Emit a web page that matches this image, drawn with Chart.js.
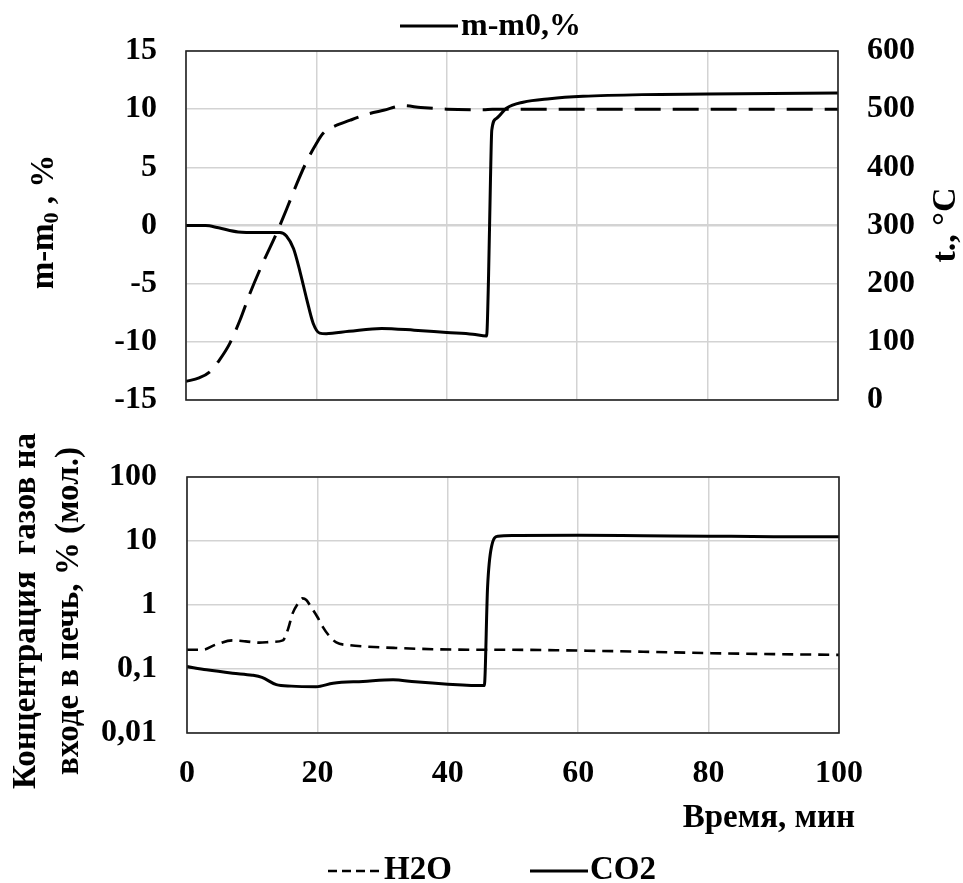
<!DOCTYPE html>
<html><head><meta charset="utf-8">
<script src="https://cdn.jsdelivr.net/npm/chart.js@4.4.1/dist/chart.umd.min.js"></script>
<style>
html,body{margin:0;padding:0;background:#fff;width:963px;height:883px;overflow:hidden;}
#c1{position:absolute;left:0;top:0;}
#c2{position:absolute;left:0;top:420px;}
</style></head><body>
<canvas id="c1" width="963" height="420"></canvas>
<canvas id="c2" width="963" height="463"></canvas>
<script>
// ---- Top panel data ----
const massTime   = [0, 3, 5, 8, 11, 14.4, 15.4, 16.5, 17.5, 18.5, 19.5, 20.5, 21.5, 25, 30, 35, 40, 44, 46.1, 46.4, 46.7, 46.9, 47.6, 49.2, 51.7, 55.8, 60.9, 70, 80, 90, 100];
const massValues = [0, 0, -0.2, -0.55, -0.6, -0.6, -0.9, -2.0, -4.0, -6.3, -8.4, -9.25, -9.3, -9.1, -8.85, -9.0, -9.2, -9.35, -9.5, -4.5, 4.0, 8.2, 9.2, 10.1, 10.6, 10.9, 11.1, 11.25, 11.3, 11.35, 11.4];
const tempTime   = [0, 2, 3.7, 5.2, 6.7, 8.3, 9.8, 11.8, 13.9, 15.5, 17, 18.5, 20, 21, 22.1, 25.2, 28, 30.3, 33.3, 36, 40, 45.6, 47, 100];
const tempValues = [32, 38, 49, 70, 97, 138, 183, 236, 287, 330, 372, 410, 441, 458, 467, 481, 492, 498, 506, 503, 500, 499, 500, 500];
// ---- Bottom panel data ----
const h2oTime    = [0, 2.4, 4.4, 7, 9, 11.1, 13, 14.7, 15.5, 16.2, 17, 17.7, 18.3, 19, 20, 20.8, 21.8, 22.9, 25, 27.5, 32, 37.7, 45, 48, 60, 70, 80, 90, 100];
const h2oValues  = [0.2, 0.2, 0.24, 0.28, 0.27, 0.258, 0.265, 0.28, 0.42, 0.74, 1.05, 1.27, 1.2, 0.94, 0.65, 0.46, 0.33, 0.26, 0.235, 0.224, 0.213, 0.204, 0.2, 0.2, 0.194, 0.186, 0.177, 0.171, 0.166];
const co2Time    = [0, 3, 7, 10, 11.5, 13.7, 16, 19.8, 22.4, 27, 31.6, 35, 40, 45.6, 46.1, 46.7, 47.7, 50, 60, 70, 80, 90, 100];
const co2Values  = [0.109, 0.097, 0.086, 0.08, 0.074, 0.057, 0.054, 0.053, 0.060, 0.064, 0.068, 0.063, 0.058, 0.055, 1.9, 8.1, 11.9, 12.2, 12.3, 12.1, 11.9, 11.7, 11.6];
// ---- Tick labels / texts ----
const xTicks = [0, 20, 40, 60, 80, 100];
const logTicks = [0.01, 0.1, 1, 10, 100];
const logTickLabels = ['0,01', '0,1', '1', '10', '100'];
const topLegendLabel = 'm-m0,%';
const tempLabel = 'Температура';
const h2oLabel = 'H2O';
const co2Label = 'CO2';
const leftTitleTop = ['m-m', '0', ' , %'];
const rightTitleTop = 't., °C';
const leftTitleBottom = ['Концентрация  газов на', 'входе в печь, % (мол.)'];
const xTitle = 'Время, мин';

const FONT = '"Liberation Serif", "Times New Roman", serif';
const pts = (xs, ys) => xs.map((x, i) => ({x, y: ys[i]}));
const GRID = '#d3d3d3';

function frame(chart) {
  const {ctx, chartArea: a} = chart;
  ctx.save();
  ctx.strokeStyle = '#222'; ctx.lineWidth = 1.6;
  ctx.strokeRect(a.left, a.top, a.right - a.left, a.bottom - a.top);
  ctx.restore();
}
const fixPad = s => { s.paddingTop = 16; s.paddingBottom = 16; };

const topPlugin = {
  id: 'topDecor',
  afterDraw(chart) {
    frame(chart);
    const ctx = chart.ctx;
    ctx.save();
    ctx.fillStyle = '#000';
    // legend
    const ds = chart.data.datasets[0];
    ctx.strokeStyle = ds.borderColor; ctx.lineWidth = 3; ctx.setLineDash([]);
    ctx.beginPath(); ctx.moveTo(400, 26); ctx.lineTo(458, 26); ctx.stroke();
    ctx.font = 'bold 32px ' + FONT; ctx.textBaseline = 'middle'; ctx.textAlign = 'left';
    ctx.fillText(ds.label, 461, 27);
    // left title
    ctx.save();
    ctx.translate(44, 222); ctx.rotate(-Math.PI / 2);
    ctx.font = 'bold 33px ' + FONT;
    const w1 = ctx.measureText(leftTitleTop[0]).width;
    const w3 = ctx.measureText(leftTitleTop[2]).width;
    ctx.font = 'bold 22px ' + FONT;
    const w2 = ctx.measureText(leftTitleTop[1]).width;
    let x = -(w1 + w2 + w3) / 2;
    ctx.font = 'bold 33px ' + FONT; ctx.fillText(leftTitleTop[0], x, 0); x += w1;
    ctx.font = 'bold 22px ' + FONT; ctx.fillText(leftTitleTop[1], x, 8); x += w2;
    ctx.font = 'bold 33px ' + FONT; ctx.fillText(leftTitleTop[2], x, 0);
    ctx.restore();
    // right title
    ctx.save();
    ctx.translate(946, 225); ctx.rotate(-Math.PI / 2);
    ctx.font = 'bold 34px ' + FONT; ctx.textAlign = 'center';
    ctx.fillText(rightTitleTop, 0, 0);
    ctx.restore();
    ctx.restore();
  }
};

const bottomPlugin = {
  id: 'bottomDecor',
  afterDraw(chart) {
    frame(chart);
    const ctx = chart.ctx;
    ctx.save();
    ctx.fillStyle = '#000';
    ctx.textBaseline = 'middle';
    // left title (two lines)
    ctx.save();
    ctx.font = 'bold 33px ' + FONT; ctx.textAlign = 'center';
    ctx.translate(0, 191); ctx.rotate(-Math.PI / 2);
    ctx.fillText(leftTitleBottom[0], 0, 26);
    ctx.fillText(leftTitleBottom[1], 0, 69);
    ctx.restore();
    // x title
    ctx.font = 'bold 33px ' + FONT; ctx.textAlign = 'right';
    ctx.fillText(xTitle, 855, 398);
    // legend
    const [dH, dC] = chart.data.datasets;
    ctx.lineWidth = 2.6; ctx.strokeStyle = dH.borderColor; ctx.setLineDash([9, 5]);
    ctx.beginPath(); ctx.moveTo(328, 451); ctx.lineTo(383, 451); ctx.stroke();
    ctx.setLineDash([]); ctx.lineWidth = 3; ctx.strokeStyle = dC.borderColor;
    ctx.beginPath(); ctx.moveTo(530, 451); ctx.lineTo(588, 451); ctx.stroke();
    ctx.font = 'bold 33px ' + FONT; ctx.textAlign = 'left';
    ctx.fillText(dH.label, 384, 450);
    ctx.fillText(dC.label, 590, 450);
    ctx.restore();
  }
};

const tickFont = {family: FONT, size: 32, weight: 'bold'};

new Chart(document.getElementById('c1'), {
  type: 'line',
  data: {
    datasets: [
      {label: topLegendLabel, data: pts(massTime, massValues), yAxisID: 'y', borderColor: '#000', borderWidth: 3,
       pointRadius: 0, cubicInterpolationMode: 'monotone', fill: false},
      {label: tempLabel, data: pts(tempTime, tempValues), yAxisID: 'y2', borderColor: '#000', borderWidth: 3,
       borderDash: [26, 12], pointRadius: 0, cubicInterpolationMode: 'monotone', fill: false}
    ]
  },
  options: {
    responsive: false, animation: false, devicePixelRatio: 1,
    layout: {padding: {top: 51, left: 0, right: 0, bottom: 0}},
    plugins: {legend: {display: false}, tooltip: {enabled: false}},
    scales: {
      x: {type: 'linear', min: 0, max: 100,
          afterBuildTicks: s => { s.ticks = xTicks.map(v => ({value: v})); },
          ticks: {display: false},
          grid: {color: GRID, lineWidth: 1.5, drawTicks: false},
          border: {display: false},
          afterFit: s => { s.height = 20; }},
      y: {position: 'left', min: -15, max: 15,
          ticks: {stepSize: 5, color: '#000', font: tickFont, padding: 29},
          grid: {color: GRID, lineWidth: c => c.tick && c.tick.value === 0 ? 2.5 : 1.5, drawTicks: false},
          border: {display: false},
          afterFit: s => { s.width = 186; fixPad(s); }},
      y2: {position: 'right', min: 0, max: 600,
          ticks: {stepSize: 100, color: '#000', font: tickFont, padding: 29},
          grid: {drawOnChartArea: false, drawTicks: false},
          border: {display: false},
          afterFit: s => { s.width = 125; fixPad(s); }}
    }
  },
  plugins: [topPlugin]
});

new Chart(document.getElementById('c2'), {
  type: 'line',
  data: {
    datasets: [
      {label: h2oLabel, data: pts(h2oTime, h2oValues), borderColor: '#000', borderWidth: 2.6,
       borderDash: [11, 7], pointRadius: 0, cubicInterpolationMode: 'monotone', fill: false},
      {label: co2Label, data: pts(co2Time, co2Values), borderColor: '#000', borderWidth: 3,
       pointRadius: 0, cubicInterpolationMode: 'monotone', fill: false}
    ]
  },
  options: {
    responsive: false, animation: false, devicePixelRatio: 1,
    layout: {padding: {top: 57, left: 0, right: 124, bottom: 0}},
    plugins: {legend: {display: false}, tooltip: {enabled: false}},
    scales: {
      x: {type: 'linear', min: 0, max: 100,
          afterBuildTicks: s => { s.ticks = xTicks.map(v => ({value: v})); },
          ticks: {color: '#000', font: tickFont, padding: 22, maxRotation: 0, autoSkip: false},
          grid: {color: GRID, lineWidth: 1.5, drawTicks: false},
          border: {display: false},
          afterFit: s => { s.height = 150; }},
      y: {type: 'logarithmic', position: 'left', min: 0.01, max: 100,
          afterBuildTicks: s => { s.ticks = logTicks.map(v => ({value: v})); },
          ticks: {color: '#000', font: tickFont, padding: 30,
                  callback: v => { const i = logTicks.indexOf(v); return i >= 0 ? logTickLabels[i] : ''; }},
          grid: {color: GRID, lineWidth: 1.5, drawTicks: false},
          border: {display: false},
          afterFit: s => { s.width = 187; fixPad(s); }}
    }
  },
  plugins: [bottomPlugin]
});
</script>
</body></html>
